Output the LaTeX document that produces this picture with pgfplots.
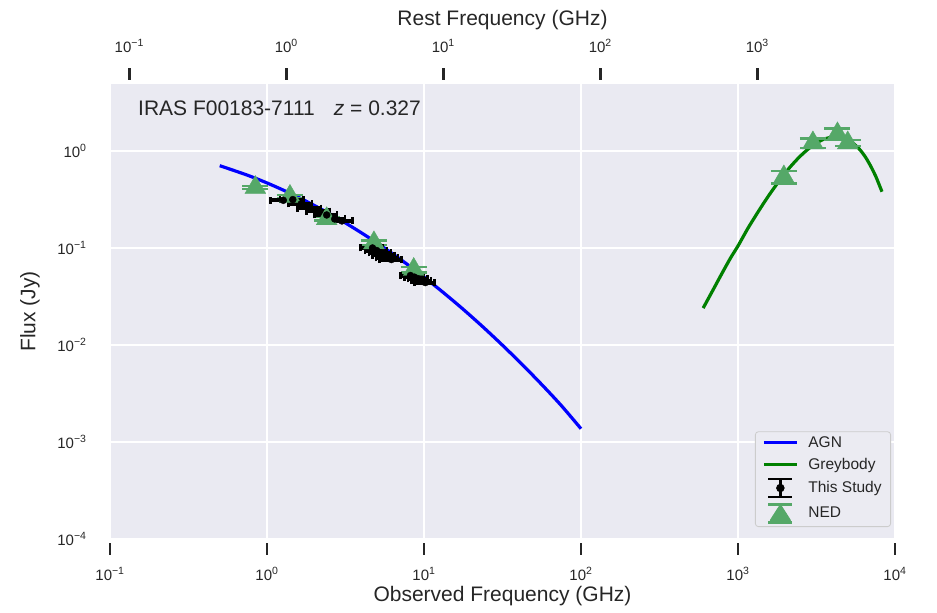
\documentclass[border=0pt]{standalone}
\usepackage{fontspec}
\setmainfont{Liberation Sans}
\usepackage{pgfplots}
\pgfplotsset{compat=1.18}
\usepackage{pgfplotstable}
\definecolor{bgc}{HTML}{EAEAF2}
\definecolor{textc}{HTML}{262626}
\definecolor{tickc}{HTML}{262626}
\definecolor{ned}{HTML}{55A868}
\definecolor{agn}{HTML}{0000FF}
\definecolor{grey}{HTML}{008000}
\definecolor{legfill}{HTML}{EBEBF2}
\definecolor{legdraw}{HTML}{CCCCCC}

\pgfplotstableread{
nu S
0.5 0.705
0.75 0.563
1 0.468
1.334 0.3806
1.778 0.303
2.371 0.2366
3.162 0.181
4.217 0.1354
5.623 0.0993
7.499 0.0713
10 0.0501
13.34 0.0345
17.78 0.0233
23.71 0.01538
31.62 0.00994
42.17 0.00630
56.23 0.00391
74.99 0.00237
100 0.00137
}\agn

\pgfplotstableread{
nu S
600 0.0240
700 0.0380
800 0.0567
900 0.0797
1000 0.105
1150 0.157
1321 0.226
1500 0.311
1671 0.401
1900 0.532
2143 0.680
2450 0.860
2748 1.02
3100 1.185
3475 1.31
3800 1.37
4200 1.40
4650 1.37
5160 1.28
5550 1.16
5980 1.03
6450 0.875
6930 0.72
7550 0.545
8260 0.38
}\grey

\pgfplotstableread{
nu S dnu
1.27 0.310 0.22
1.46 0.315 0.25
1.65 0.284 0.28
1.88 0.258 0.32
2.15 0.240 0.36
2.40 0.219 0.40
2.70 0.199 0.45
3.00 0.190 0.50
4.70 0.100 0.75
5.00 0.094 0.80
5.30 0.089 0.85
5.60 0.084 0.90
5.90 0.079 0.95
6.20 0.076 1.00
8.20 0.052 1.10
8.70 0.050 1.20
9.20 0.048 1.30
9.70 0.046 1.40
10.20 0.044 1.50
}\study

\pgfplotstableread{
nu S err
0.843 0.42 0.015
1.4 0.34 0.012
2.4 0.200 0.008
4.8 0.113 0.006
8.6 0.060 0.004
1960 0.54 0.08
3000 1.21 0.14
4300 1.50 0.20
5000 1.21 0.08
}\ned

\begin{document}
\begin{tikzpicture}
\begin{axis}[name=main, scale only axis, width=785pt, height=455pt,
  xmode=log, ymode=log, xmin=0.1, xmax=10000, ymin=1e-4, ymax=4.9,
  axis background/.style={fill=bgc}, axis line style={draw=none},
  xtick={0.1,1,10,100,1000,10000},
  xticklabels={10\textsuperscript{−1},10\textsuperscript{0},10\textsuperscript{1},10\textsuperscript{2},10\textsuperscript{3},10\textsuperscript{4}},
  ytick={1e-4,1e-3,1e-2,1e-1,1},
  yticklabels={10\textsuperscript{−4},10\textsuperscript{−3},10\textsuperscript{−2},10\textsuperscript{−1},10\textsuperscript{0}},
  minor tick length=0pt, minor tick style={draw=none},
  xtick pos=lower, ytick pos=left,
  tick align=outside, major tick length=12pt,
  xtick style={draw=tickc, line width=2.5pt, yshift=-4pt},
  ytick style={draw=none},
  grid=major, minor grid style={draw=none}, major grid style={white, line width=1.6pt},
  xticklabel style={font=\fontsize{15}{18}\selectfont, text=textc, anchor=center, yshift=-23pt},
  yticklabel style={font=\fontsize{15}{18}\selectfont, text=textc, xshift=-8pt},
  xlabel={Observed Frequency (GHz)}, ylabel={Flux (Jy)},
  xlabel style={font=\fontsize{21}{25}\selectfont, text=textc, at={(rel axis cs:0.5,0)}, anchor=center, yshift=-57pt},
  ylabel style={font=\fontsize{21}{25}\selectfont, text=textc, at={(rel axis cs:0,0.5)}, anchor=center, yshift=80pt},
  legend style={at={(1,0)}, anchor=south east, xshift=-4pt, yshift=12pt,
    fill=legfill, draw=legdraw, rounded corners=3pt, line width=0.8pt,
    font=\fontsize{15.5}{18}\selectfont, text=textc, row sep=5pt,
    inner xsep=7pt, inner ysep=3pt,
    /tikz/every odd column/.append style={column sep=8pt}},
  legend cell align=left,
  clip=false,
]
\addplot[agn, line width=3.2pt, smooth,
  legend image code/.code={\draw[agn, line width=3pt] (0pt,0pt)--(33pt,0pt);}]
  table[x=nu, y=S] {\agn};
\addlegendentry{AGN}
\addplot[grey, line width=3.2pt, smooth,
  legend image code/.code={\draw[grey, line width=3pt] (0pt,0pt)--(33pt,0pt);}]
  table[x=nu, y=S] {\grey};
\addlegendentry{Greybody}
\addplot[forget plot, only marks, mark=triangle*, mark size=12pt, color=ned,
  mark options={fill=ned, draw=ned},
  error bars/.cd, y dir=both, y explicit, error mark=|,
  error bar style={line width=2.5pt, ned},
  error mark options={ned, line width=2.5pt, mark size=13pt}]
  table[x=nu, y=S, y error=err] {\ned};
\addplot[only marks, mark=*, mark size=3.5pt, color=black,
  mark options={fill=black, draw=black},
  legend image code/.code={
    \draw[black, line width=2.4pt] (16.5pt,-9pt)--(16.5pt,9pt);
    \draw[black, line width=2.4pt] (4.5pt,-9pt)--(28.5pt,-9pt) (4.5pt,9pt)--(28.5pt,9pt);
    \fill[black] (16.5pt,0pt) circle (3.8pt);},
  error bars/.cd, x dir=both, x explicit, error mark=|,
  error bar style={line width=4pt, black},
  error mark options={black, line width=2.5pt, mark size=3.5pt}]
  table[x=nu, y=S, x error=dnu] {\study};
\addlegendentry{This Study}
\addlegendimage{legend image code/.code={
    \draw[ned, line width=2.4pt] (16.5pt,-9pt)--(16.5pt,9pt);
    \draw[ned, line width=2.4pt] (4.5pt,-9pt)--(28.5pt,-9pt) (4.5pt,9pt)--(28.5pt,9pt);
    \fill[ned] (5pt,-9pt)--(28pt,-9pt)--(16.5pt,9pt)--cycle;}}
\addlegendentry{NED}
\node[anchor=west, font=\fontsize{21}{25}\selectfont, text=textc, inner sep=0pt]
  at (rel axis cs:0,1) [xshift=28pt, yshift=-24pt]
  {IRAS F00183-7111\hspace{0.9em}\textit{z}\hspace{0.28em}=\hspace{0.28em}0.327};
\end{axis}
\begin{axis}[scale only axis, width=785pt, height=455pt,
  xmode=log, ymode=log, xmin=0.1, xmax=10000, ymin=1e-4, ymax=4.9,
  axis x line*=top, axis y line=none, axis line style={draw=none},
  xtick={0.1327,1.327,13.27,132.7,1327},
  xticklabels={10\textsuperscript{−1},10\textsuperscript{0},10\textsuperscript{1},10\textsuperscript{2},10\textsuperscript{3}},
  minor tick length=0pt, minor tick style={draw=none},
  tick align=outside, major tick length=12pt,
  xtick style={draw=tickc, line width=2.5pt, yshift=4pt},
  xticklabel style={font=\fontsize{15}{18}\selectfont, text=textc, anchor=center, yshift=26pt},
  xlabel={Rest Frequency (GHz)},
  xlabel style={font=\fontsize{21}{25}\selectfont, text=textc, at={(rel axis cs:0.5,1)}, anchor=center, yshift=64pt},
]
\addplot[draw=none] coordinates {(1,1)};
\end{axis}
\pgfresetboundingbox
\path[use as bounding box] ([xshift=-110pt,yshift=-74pt]main.south west) rectangle ([xshift=42pt,yshift=84pt]main.north east);
\end{tikzpicture}
\end{document}
